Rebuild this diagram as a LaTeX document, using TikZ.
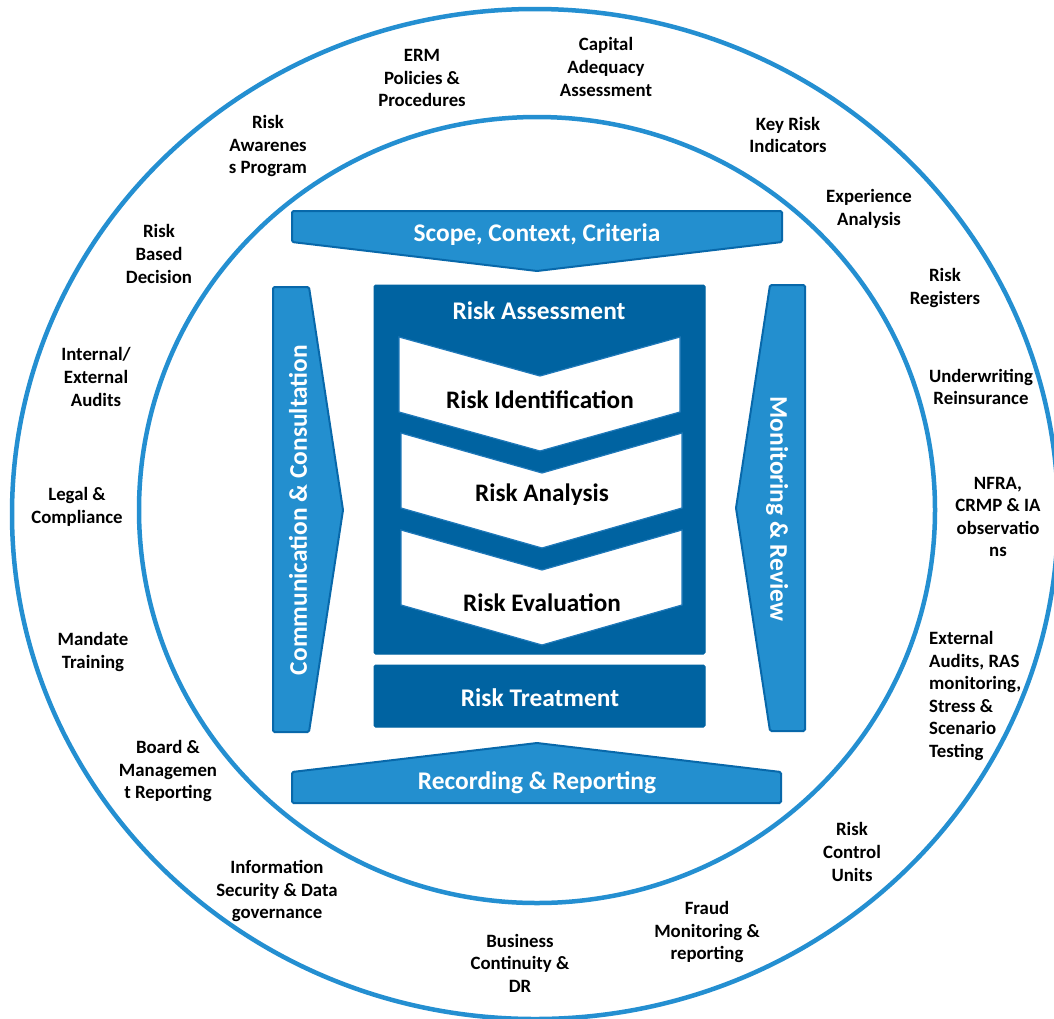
\documentclass[tikz,border=0pt]{standalone}
\usepackage{fontspec}
\setmainfont{Carlito}
\definecolor{ring}{RGB}{36,143,209}
\definecolor{lightblue}{RGB}{35,143,207}
\definecolor{edgeblue}{RGB}{8,104,170}
\definecolor{darkblue}{RGB}{0,99,161}
\definecolor{chevedge}{RGB}{30,120,185}
\tikzset{
  ringline/.style={draw=ring, line width=4.5},
  banner/.style={fill=lightblue, draw=edgeblue, line width=2, rounded corners=1.5},
  darkbox/.style={fill=darkblue, draw=darkblue, line width=1, rounded corners=1.5},
  chev/.style={fill=white, draw=chevedge, line width=1.2},
  bannertext/.style={text=white, font=\fontsize{25.4}{29}\selectfont\bfseries, inner sep=0},
  chevtext/.style={text=black, font=\fontsize{25.2}{29}\selectfont\bfseries, inner sep=0},
  outer/.style={text=black, align=center, font=\fontsize{18.8}{22.6}\selectfont\bfseries, inner sep=0},
}
\begin{document}
\begin{tikzpicture}[x=1pt,y=-1pt]
\useasboundingbox (0,0) rectangle (1054,1018);
\clip (0,0) rectangle (1054,1018);
\fill[white] (0,0) rectangle (1054,1018);
% rings
\draw[ringline] (535,514) ellipse [x radius=523, y radius=505];
\draw[ringline] (537,510) ellipse [x radius=398, y radius=393];
% top banner
\path[banner] (292,211) -- (782,211) -- (782,242) -- (537,271) -- (292,242) -- cycle;
\node[bannertext] (scope) at (537,235) {Scope, Context, Criteria};
% side arrows
\path[banner] (273,287) -- (309,287) -- (343,510) -- (309,732) -- (273,732) -- cycle;
\node[bannertext, rotate=90] (comm) at (298,510) {Communication \& Consultation};
\path[banner] (770,285) -- (805,285) -- (805,731) -- (770,731) -- (736,508) -- cycle;
\node[bannertext, rotate=-90] (mon) at (777,509) {Monitoring \& Review};
% risk assessment
\path[darkbox] (374,285) rectangle (705,654);
\node[bannertext] (ra) at (539,311) {Risk Assessment};
\path[chev] (399,337) -- (540,376) -- (680,337) -- (680,412) -- (540,451) -- (399,412) -- cycle;
\path[chev] (401,433) -- (542,473) -- (682,433) -- (682,508) -- (542,548) -- (401,508) -- cycle;
\path[chev] (401,530) -- (542,570) -- (682,530) -- (682,605) -- (542,645) -- (401,605) -- cycle;
\node[chevtext] (rid) at (540,400) {Risk Identification};
\node[chevtext] (ran) at (542,495) {Risk Analysis};
\node[chevtext] (rev) at (542,603) {Risk Evaluation};
% treatment
\path[darkbox] (374,665) rectangle (705,727);
\node[bannertext] (rt) at (540,698) {Risk Treatment};
% bottom banner
\path[banner] (292,772) -- (537,743) -- (781,772) -- (781,803) -- (292,803) -- cycle;
\node[bannertext] (rec) at (537,783) {Recording \& Reporting};
% outer labels
\node[outer] (erm) at (422,78) {ERM\\Policies \&\\Procedures};
\node[outer] (cap) at (606,67) {Capital\\Adequacy\\Assessment};
\node[outer] (awa) at (268,146) {Risk\\Awarenes\\s Program};
\node[outer] (kri) at (788,135) {Key Risk\\Indicators};
\node[outer] (exp) at (869,209) {Experience\\Analysis};
\node[outer] (rbd) at (159,254) {Risk\\Based\\Decision};
\node[outer] (reg) at (945,288) {Risk\\Registers};
\node[outer] (aud) at (96,377) {Internal/\\External\\Audits};
\node[outer] (uw) at (981,387) {Underwriting\\Reinsurance};
\node[outer] (leg) at (77,507) {Legal \&\\Compliance};
\node[outer] (nfra) at (998,517) {NFRA,\\CRMP \& IA\\observatio\\ns};
\node[outer] (man) at (93,652) {Mandate\\Training};
\node[outer, align=left, anchor=west] (ext) at (929,696) {External\\Audits, RAS\\monitoring,\\Stress \&\\Scenario\\Testing};
\node[outer] (brd) at (168,771) {Board \&\\Managemen\\t Reporting};
\node[outer] (rcu) at (852,852) {Risk\\Control\\Units};
\node[outer] (isd) at (277,891) {Information\\Security \& Data\\governance};
\node[outer] (frd) at (707,932) {Fraud\\Monitoring \&\\reporting};
\node[outer] (bcp) at (520,963) {Business\\Continuity \&\\DR};
\end{tikzpicture}
\end{document}
